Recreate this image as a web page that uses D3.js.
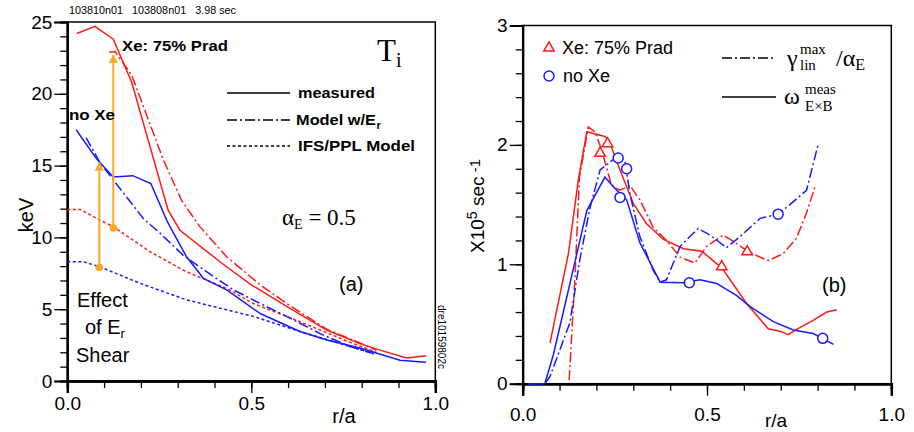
<!DOCTYPE html>
<html>
<head>
<meta charset="utf-8">
<script src="https://cdn.jsdelivr.net/npm/d3@7"></script>
<style>
  body { margin: 0; background: #fff; }
  svg { display: block; font-family: "Liberation Sans", Arial, sans-serif; }
  .serif { font-family: "Liberation Serif", "Times New Roman", serif; }
</style>
</head>
<body>
<div id="chart"></div>
<script>

// ---- panel (a): ion temperature profiles, [r/a, keV] ----
var tiXeMeasured = [[0.026,24.2],[0.075,24.7],[0.125,23.8],[0.175,20.8],[0.274,11.9],[0.306,10.5],[0.42,8.2],
    [0.50,6.7],[0.596,5.2],[0.705,3.55],[0.795,2.6],[0.85,2.15],[0.922,1.6],[0.975,1.75]];
var tiXeModel = [[0.114,22.9],[0.13,22.95],[0.139,22.6],[0.175,21.3],[0.261,15.4],[0.31,12.6],[0.36,10.75],
    [0.433,8.65],[0.524,6.7],[0.596,5.4],[0.705,3.6],[0.795,2.65],[0.84,2.15]];
var tiXeIfs = [[0.0,11.95],[0.035,11.95],[0.089,11.2],[0.125,10.75],[0.225,9.0],[0.324,7.6],[0.433,6.45],
    [0.505,5.4],[0.596,4.5],[0.687,3.55],[0.777,2.6],[0.84,2.0]];
var tiNoXeMeasured = [[0.024,17.5],[0.08,15.45],[0.125,14.2],[0.178,14.3],[0.227,13.75],[0.27,11.2],[0.279,10.75],
    [0.324,8.65],[0.37,7.15],[0.433,6.35],[0.524,4.7],[0.632,3.45],[0.705,2.85],[0.795,2.3],[0.904,1.45],[0.975,1.3]];
var tiNoXeModel = [[0.051,16.95],[0.089,15.2],[0.125,14.0],[0.207,11.3],[0.252,10.3],[0.315,8.75],[0.379,7.6],
    [0.451,6.35],[0.524,5.4],[0.596,4.5],[0.687,3.3],[0.768,2.4],[0.832,1.9]];
var tiNoXeIfs = [[0.0,8.3],[0.044,8.3],[0.089,7.95],[0.198,6.8],[0.324,5.65],[0.505,4.5],[0.632,3.45],
    [0.723,2.75],[0.814,2.05],[0.832,1.9]];
// Er-shear arrows: [r/a, IFS value, model value]
var shearArrows = [[0.087,7.9,15.2],[0.125,10.65,22.7]];

// ---- panel (b): rates, [r/a, 1e5 /s] ----
var gammaXe = [[0.126,0.03],[0.142,0.90],[0.154,1.73],[0.178,2.15],[0.196,2.11],[0.214,1.96],[0.241,1.66],
    [0.264,1.62],[0.291,1.66],[0.318,1.54],[0.354,1.31],[0.39,1.20],[0.427,1.06],[0.467,1.01],[0.499,1.15],
    [0.544,1.245],[0.58,1.175],[0.612,1.105],[0.666,1.03],[0.707,1.09],[0.743,1.22],[0.77,1.43],[0.793,1.65]];
var omegaXe = [[0.074,0.34],[0.124,1.09],[0.151,1.71],[0.174,2.11],[0.223,2.07],[0.235,2.03],[0.264,1.79],
    [0.30,1.51],[0.336,1.34],[0.381,1.21],[0.436,1.13],[0.486,1.11],[0.54,0.97],[0.608,0.67],[0.666,0.46],
    [0.698,0.44],[0.72,0.41],[0.743,0.455],[0.788,0.53],[0.825,0.60],[0.852,0.62]];
var gammaNoXe = [[0.015,0],[0.06,0],[0.074,0.06],[0.128,0.51],[0.155,1.04],[0.183,1.48],[0.21,1.79],
    [0.255,1.90],[0.277,1.87],[0.291,1.59],[0.318,1.23],[0.354,0.95],[0.373,0.85],[0.39,0.87],[0.427,1.15],
    [0.476,1.30],[0.508,1.245],[0.553,1.14],[0.589,1.23],[0.644,1.385],[0.693,1.42],[0.725,1.50],[0.77,1.62],[0.802,2.01]];
var omegaNoXe = [[0.015,0],[0.06,0],[0.083,0.24],[0.12,0.73],[0.174,1.45],[0.223,1.73],[0.255,1.62],
    [0.282,1.54],[0.318,1.18],[0.373,0.85],[0.436,0.845],[0.481,0.87],[0.526,0.84],[0.58,0.74],[0.617,0.645],
    [0.68,0.52],[0.734,0.45],[0.788,0.42],[0.843,0.33]];
var xeMarkers = [[0.21,1.93],[0.23,2.01],[0.54,0.98],[0.609,1.105]];
var noXeMarkers = [[0.259,1.89],[0.282,1.80],[0.264,1.56],[0.452,0.845],[0.693,1.42],[0.814,0.38]];

var RED = "#ff1a1a", BLUE = "#1a1aff", ORANGE = "#f9a825";
var DASHDOT = "10,3,2,3", DOTTED = "3,2.5";

var svg = d3.select("#chart").append("svg")
    .attr("width", 914).attr("height", 432);

// axis frame helper
function drawFrame(g, x, y, yMajor, yMinor, yFmt) {
    var w = x.range()[1] - x.range()[0], h = y.range()[0] - y.range()[1];
    var xMinor = d3.range(0, 1.0001, 0.1);
    g.append("rect").attr("x", x.range()[0]).attr("y", y.range()[1])
        .attr("width", w).attr("height", h)
        .attr("fill", "none").attr("stroke", "#000").attr("stroke-width", 1.5);

    var xAx = g.append("g").attr("transform", "translate(0," + y.range()[0] + ")")
        .call(d3.axisBottom(x).tickValues(xMinor).tickSize(7).tickFormat(""));
    xAx.append("g").call(d3.axisBottom(x).tickValues([0, 0.5, 1]).tickSize(12).tickFormat(d3.format(".1f")));
    xAx.selectAll(".domain").attr("stroke-width", 2.5);

    var yAx = g.append("g").attr("transform", "translate(" + x.range()[0] + ",0)")
        .call(d3.axisLeft(y).tickValues(yMinor).tickSize(7).tickFormat(""));
    yAx.append("g").call(d3.axisLeft(y).tickValues(yMajor).tickSize(13).tickFormat(yFmt));
    yAx.selectAll(".domain").attr("stroke-width", 2);

    g.selectAll(".tick line").attr("stroke-width", 1.3);
    g.selectAll(".tick text").attr("font-size", 19).attr("fill", "#000")
        .attr("font-family", "Liberation Sans, Arial, sans-serif");
    yAx.selectAll(".tick text").attr("x", -15);
    xAx.selectAll(".tick text").attr("y", 16);
}

var line = function(x, y) {
    return d3.line().x(function(d) { return x(d[0]); }).y(function(d) { return y(d[1]); })
        .curve(d3.curveLinear);
};

// text with a fixed width, to match the stretched look of the original
function fitText(g, x, y, size, str, len, bold) {
    return g.append("text").attr("x", x).attr("y", y).attr("font-size", size)
        .attr("font-weight", bold ? "bold" : null)
        .attr("textLength", len).attr("lengthAdjust", "spacingAndGlyphs").text(str);
}

// ===================== panel (a) =====================
var xa = d3.scaleLinear().domain([0, 1]).range([67.3, 435.3]);
var ya = d3.scaleLinear().domain([0, 25]).range([381, 22]);
var ga = svg.append("g");
drawFrame(ga, xa, ya, [0, 5, 10, 15, 20, 25], d3.range(0, 26, 1), d3.format("d"));

var la = line(xa, ya);
[
    [tiXeMeasured, RED, null], [tiXeModel, RED, DASHDOT], [tiXeIfs, RED, DOTTED],
    [tiNoXeMeasured, BLUE, null], [tiNoXeModel, BLUE, DASHDOT], [tiNoXeIfs, BLUE, DOTTED]
].forEach(function(s) {
    ga.append("path").datum(s[0]).attr("d", la)
        .attr("fill", "none").attr("stroke", s[1]).attr("stroke-width", 1.5)
        .attr("stroke-dasharray", s[2]);
});

// arrows showing the effect of Er shear
svg.append("defs").append("marker").attr("id", "arr")
    .attr("viewBox", "0 0 10 10").attr("refX", 9).attr("refY", 5)
    .attr("markerWidth", 4.5).attr("markerHeight", 4.5).attr("orient", "auto")
    .append("path").attr("d", "M0,0 L10,5 L0,10 z").attr("fill", ORANGE);
shearArrows.forEach(function(d) {
    ga.append("line").attr("x1", xa(d[0])).attr("x2", xa(d[0]))
        .attr("y1", ya(d[1])).attr("y2", ya(d[2]))
        .attr("stroke", ORANGE).attr("stroke-width", 2).attr("marker-end", "url(#arr)");
    ga.append("circle").attr("cx", xa(d[0])).attr("cy", ya(d[1])).attr("r", 3.8).attr("fill", ORANGE);
});

// legend (a)
var legA = [["measured", null, 93, 298, 77], ["Model w/E", DASHDOT, 120, 296, 80], ["IFS/PPL Model", DOTTED, 146, 298, 117]];
legA.forEach(function(d) {
    ga.append("line").attr("x1", 227).attr("x2", 290).attr("y1", d[2]).attr("y2", d[2])
        .attr("stroke", "#000").attr("stroke-width", 1.5).attr("stroke-dasharray", d[1]);
    var t = fitText(ga, d[3], d[2] + 5, 15, d[0], d[4], true);
    if (d[0] === "Model w/E") {
        ga.append("text").attr("x", d[3] + d[4] + 0.5).attr("y", d[2] + 9)
            .attr("font-size", 11).attr("font-weight", "bold").text("r");
    }
});

fitText(ga, 69, 14, 10.5, "103810n01   103808n01   3.98 sec", 167, false).attr("xml:space", "preserve");
fitText(ga, 122, 51, 15, "Xe: 75% Prad", 106, true);
fitText(ga, 69, 120, 15, "no Xe", 46, true);
var ti = ga.append("text").attr("class", "serif").attr("x", 377).attr("y", 61).attr("font-size", 31).text("T");
ti.append("tspan").attr("font-size", 20).attr("dy", 6).text("i");
var ae = ga.append("text").attr("class", "serif").attr("x", 282).attr("y", 225).attr("font-size", 23).text("α");
ae.append("tspan").attr("font-size", 14).attr("dy", 4).text("E");
ae.append("tspan").attr("dy", -4).text(" = 0.5");
ga.append("text").attr("x", 339).attr("y", 291).attr("font-size", 20).text("(a)");
ga.append("text").attr("x", 77).attr("y", 307).attr("font-size", 20).text("Effect");
var ofE = ga.append("text").attr("x", 85).attr("y", 334).attr("font-size", 20).text("of E");
ofE.append("tspan").attr("font-size", 13).attr("dy", 4).text("r");
ga.append("text").attr("x", 76).attr("y", 362).attr("font-size", 20).text("Shear");
ga.append("text").attr("transform", "translate(438,305) rotate(90)").attr("font-size", 10).text("dre10159802c");
ga.append("text").attr("transform", "translate(33,215) rotate(-90)").attr("text-anchor", "middle")
    .attr("font-size", 20).text("keV");
ga.append("text").attr("x", 344).attr("y", 423).attr("text-anchor", "middle").attr("font-size", 20).text("r/a");

// ===================== panel (b) =====================
var xb = d3.scaleLinear().domain([0, 1]).range([522.7, 891.3]);
var yb = d3.scaleLinear().domain([0, 3]).range([383.7, 25.5]);
var gb = svg.append("g");
drawFrame(gb, xb, yb, [0, 1, 2, 3], d3.range(0, 3.01, 0.2), d3.format("d"));
gb.selectAll(".tick text").filter(function() { return this.getAttribute("y") == 16; }).attr("y", 24);

var lb = line(xb, yb);
[
    [gammaXe, RED, DASHDOT], [omegaXe, RED, null], [gammaNoXe, BLUE, DASHDOT], [omegaNoXe, BLUE, null]
].forEach(function(s) {
    gb.append("path").datum(s[0]).attr("d", lb)
        .attr("fill", "none").attr("stroke", s[1]).attr("stroke-width", 1.5)
        .attr("stroke-dasharray", s[2]);
});

var tri = d3.symbol().type(d3.symbolTriangle).size(48);
gb.selectAll(".xeMark").data(xeMarkers).enter().append("path")
    .attr("class", "xeMark").attr("d", tri)
    .attr("transform", function(d) { return "translate(" + xb(d[0]) + "," + yb(d[1]) + ")"; })
    .attr("fill", "#fff").attr("stroke", RED).attr("stroke-width", 1.5);
gb.selectAll(".noXeMark").data(noXeMarkers).enter().append("circle")
    .attr("class", "noXeMark").attr("cx", function(d) { return xb(d[0]); }).attr("cy", function(d) { return yb(d[1]); })
    .attr("r", 5).attr("fill", "#fff").attr("stroke", BLUE).attr("stroke-width", 1.5);

// legend (b)
gb.append("path").attr("d", tri).attr("transform", "translate(549,48)")
    .attr("fill", "#fff").attr("stroke", RED).attr("stroke-width", 1.5);
gb.append("text").attr("x", 562).attr("y", 54).attr("font-size", 18).text("Xe: 75% Prad");
gb.append("circle").attr("cx", 549).attr("cy", 76).attr("r", 5)
    .attr("fill", "#fff").attr("stroke", BLUE).attr("stroke-width", 1.5);
gb.append("text").attr("x", 563).attr("y", 82).attr("font-size", 18).text("no Xe");

gb.append("line").attr("x1", 722).attr("x2", 776).attr("y1", 58).attr("y2", 58)
    .attr("stroke", "#000").attr("stroke-width", 1.5).attr("stroke-dasharray", DASHDOT);
var gl = gb.append("text").attr("class", "serif").attr("x", 787).attr("y", 66).attr("font-size", 24).text("γ");
gl.append("tspan").attr("font-size", 15).attr("x", 800).attr("dy", -12).text("max");
gl.append("tspan").attr("font-size", 15).attr("x", 800).attr("dy", 16).text("lin");
gl.append("tspan").attr("font-size", 24).attr("x", 836).attr("dy", -4).text("/α");
gl.append("tspan").attr("font-size", 16).attr("dy", 4).text("E");

gb.append("line").attr("x1", 722).attr("x2", 776).attr("y1", 97).attr("y2", 97)
    .attr("stroke", "#000").attr("stroke-width", 1.5);
var om = gb.append("text").attr("class", "serif").attr("x", 784).attr("y", 104).attr("font-size", 24).text("ω");
om.append("tspan").attr("font-size", 15).attr("x", 805).attr("dy", -10).text("meas");
om.append("tspan").attr("font-size", 15).attr("x", 805).attr("dy", 17).text("E×B");

gb.append("text").attr("x", 822).attr("y", 292).attr("font-size", 20).text("(b)");
var yl = gb.append("text").attr("transform", "translate(484,206) rotate(-90)").attr("text-anchor", "middle")
    .attr("font-size", 19).text("X10");
yl.append("tspan").attr("font-size", 14).attr("dy", -7).text("5");
yl.append("tspan").attr("dy", 7).text(" sec");
yl.append("tspan").attr("font-size", 15).attr("dy", -4).text(" -1");
gb.append("text").attr("x", 776).attr("y", 427).attr("text-anchor", "middle").attr("font-size", 19).text("r/a");

</script>
</body>
</html>
